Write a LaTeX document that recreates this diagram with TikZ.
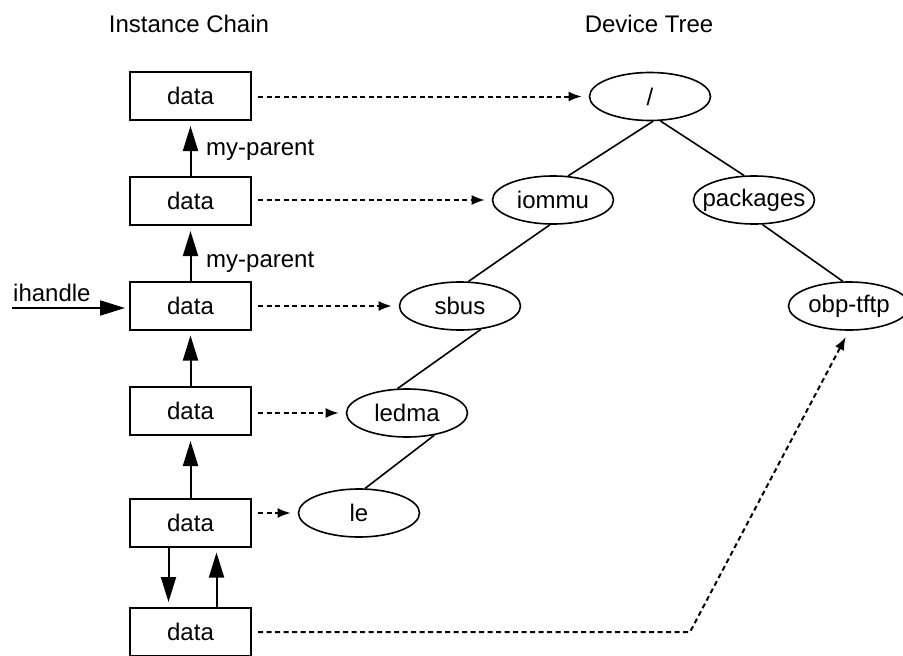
\documentclass[tikz,border=0pt]{standalone}
\usepackage{fontspec}
\setmainfont{Liberation Sans}
\usepackage{tikz}
\usepackage{tkz-euclide}
\usetikzlibrary{arrows.meta,shapes.geometric}

% texto de largura zero, para que o tamanho da elipse venha so do minimum width
\newcommand{\rotulo}[1]{\makebox[0pt]{#1}}

\begin{document}
\begin{tikzpicture}[x=1pt,y=-1pt, %unidades em pt, com o eixo y para baixo
  font=\fontsize{24pt}{28pt}\selectfont,
  caixa/.style={draw,line width=2pt,minimum width=121pt,minimum height=48pt,inner sep=0pt},
  no/.style={draw,ellipse,line width=1.6pt,minimum width=121pt,minimum height=48pt,inner sep=0pt},
  pai/.style={line width=2pt,-{Triangle[length=25pt,width=15pt]},shorten >=5pt},
  ramo/.style={line width=1.6pt},
  liga/.style={line width=2pt,dash pattern=on 5pt off 3.5pt,-{Latex[length=13pt,width=10pt]},shorten <=6pt,shorten >=7pt}]

\useasboundingbox (0,0) rectangle (903,656);

%O comando \tkzDefPoints define os pontos (x/y/NomedoPonto) onde ficam as caixas, as elipses e as quebras das ligacoes
\tkzDefPoints{
190.5/96/P1,
190.5/201/P2,
190.5/305.5/P3,
190.5/411/P4,
190.5/522.5/P5,
190.5/632/P6,
650/96.5/R,
553/200/I,
754/200/K,
460/306/S,
849/306/O,
407/413/L,
359/513/E,
690/632/Q,
12/308/H}

%Titulos das duas colunas
%---------------------------------------------------
\node[anchor=base] (tcadeia) at (189,32) {Instance Chain};
\node[anchor=base] (tarvore) at (649,32) {Device Tree};
%---------------------------------------------------

%Cadeia de instancias: uma caixa "data" em cada ponto P
%---------------------------------------------------
\node[caixa] (d1) at (P1) {data};
\node[caixa] (d2) at (P2) {data};
\node[caixa] (d3) at (P3) {data};
\node[caixa] (d4) at (P4) {data};
\node[caixa] (d5) at (P5) {data};
\node[caixa] (d6) at (P6) {data};
%---------------------------------------------------

%Arvore de dispositivos: uma elipse por no
%---------------------------------------------------
\node[no] (raiz) at (R) {\rotulo{/}};
\node[no] (iommu) at (I) {\rotulo{iommu}};
\node[no] (packages) at (K) {\rotulo{packages}};
\node[no] (sbus) at (S) {\rotulo{sbus}};
\node[no] (obptftp) at (O) {\rotulo{obp-tftp}};
\node[no] (ledma) at (L) {\rotulo{ledma}};
\node[no] (le) at (E) {\rotulo{le}};
%---------------------------------------------------

%Ramos da arvore, presos em angulos da borda de cada elipse
%---------------------------------------------------
\draw[ramo] (raiz.-83) -- (iommu.58);
\draw[ramo] (raiz.-67) -- (packages.112);
\draw[ramo] (iommu.-97) -- (sbus.71);
\draw[ramo] (packages.-71) -- (obptftp.104);
\draw[ramo] (sbus.-48) -- (ledma.111);
\draw[ramo] (ledma.-39) -- (le.76);
%---------------------------------------------------

%Setas my-parent, de cada caixa para a de cima
%---------------------------------------------------
\draw[pai] (d2.north) -- (d1.south);
\draw[pai] (d3.north) -- (d2.south);
\draw[pai] (d4.north) -- (d3.south);
\draw[pai] (d5.north) -- (d4.south);
\draw[pai] ([xshift=26pt]d6.north) -- ([xshift=26pt]d5.south);
\draw[pai] ([xshift=-22pt]d5.south) -- ([xshift=-22pt]d6.north);
\node[anchor=base west,inner sep=0pt] (mp1) at (206,155) {my-parent};
\node[anchor=base west,inner sep=0pt] (mp2) at (206,267) {my-parent};
%---------------------------------------------------

%Entrada ihandle na terceira caixa
%---------------------------------------------------
\node[anchor=base west,inner sep=0pt] (tih) at (13,301) {ihandle};
\draw[pai,shorten >=4pt] (H) -- (H -| d3.west);
%---------------------------------------------------

%Ligacoes tracejadas de cada caixa ao seu no da arvore
%---------------------------------------------------
\draw[liga] (d1.east |- raiz) -- (raiz);
\draw[liga] (d2.east |- iommu) -- (iommu);
\draw[liga] (d3.east |- sbus) -- (sbus);
\draw[liga] (d4.east |- ledma) -- (ledma);
\draw[liga] (d5.east |- le) -- (le);
\draw[liga] (d6.east) -- (Q) -- (obptftp.south);
%---------------------------------------------------

\end{tikzpicture}
\end{document}
